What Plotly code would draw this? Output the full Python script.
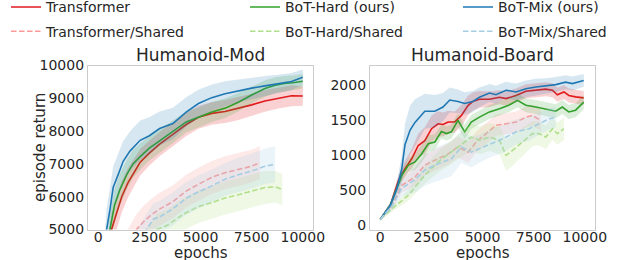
import plotly.graph_objects as go

# ------------------------------------------------------------------ data
x_ticks = [0, 2500, 5000, 7500, 10000]
x_tick_labels = ["0", "2500", "5000", "7500", "10000"]
mod_y_ticks = [5000, 6000, 7000, 8000, 9000, 10000]
mod_y_tick_labels = ["5000", "6000", "7000", "8000", "9000", "10000"]
board_y_ticks = [0, 500, 1000, 1500, 2000]
board_y_tick_labels = ["0", "500", "1000", "1500", "2000"]

panel_titles = ["Humanoid-Mod", "Humanoid-Board"]
series_names = ["Transformer", "Transformer/Shared", "BoT-Hard (ours)",
                "BoT-Hard/Shared", "BoT-Mix (ours)", "BoT-Mix/Shared"]

# --- Humanoid-Mod
mod_tr_ep = [0, 650, 900, 1150, 1450, 1800, 2050, 2500, 3000, 3650, 4300, 4900, 5550, 6200, 6850, 7500, 8150, 8800, 9450, 10000]
mod_tr_val = [1500, 5000, 5500, 6000, 6420, 6790, 7050, 7330, 7600, 7900, 8200, 8420, 8540, 8600, 8690, 8800, 8920, 9010, 9080, 9070]
mod_tr_std = [300, 500, 500, 480, 450, 420, 400, 380, 370, 360, 350, 350, 350, 350, 350, 340, 330, 320, 320, 300]

mod_trs_ep = [0, 1300, 1875, 2200, 2600, 3000, 3650, 4300, 4900, 5550, 6200, 6850, 7500, 7900]
mod_trs_val = [1000, 4400, 5000, 5230, 5450, 5620, 5850, 6170, 6380, 6590, 6730, 6830, 6930, 7040]
mod_trs_std = [300, 450, 470, 480, 490, 500, 500, 500, 500, 500, 500, 500, 500, 500]

mod_hard_ep = [0, 570, 800, 1050, 1400, 1700, 2050, 2500, 3000, 3650, 4300, 4900, 5550, 6200, 6850, 7500, 8150, 8650, 9100, 9600, 10000]
mod_hard_val = [1500, 5000, 5750, 6200, 6680, 7000, 7220, 7480, 7700, 7980, 8280, 8420, 8580, 8700, 8880, 9100, 9300, 9400, 9450, 9480, 9520]
mod_hard_std = [300, 500, 500, 480, 450, 420, 400, 380, 360, 340, 320, 300, 300, 300, 280, 260, 250, 240, 230, 220, 220]

mod_hards_ep = [0, 2300, 2850, 3350, 4200, 4900, 5550, 6200, 6850, 7500, 8150, 8650, 9000]
mod_hards_val = [1000, 4500, 5000, 5120, 5480, 5700, 5820, 5960, 6060, 6160, 6280, 6300, 6220]
mod_hards_std = [300, 450, 470, 480, 490, 500, 500, 500, 500, 500, 500, 480, 480]

mod_mix_ep = [0, 410, 570, 730, 980, 1220, 1550, 2050, 2500, 3000, 3650, 4300, 4900, 5550, 6200, 6850, 7500, 8150, 8800, 9450, 10000]
mod_mix_val = [1500, 5000, 5590, 6280, 6680, 7080, 7390, 7720, 7860, 8080, 8230, 8580, 8840, 9020, 9140, 9230, 9310, 9380, 9440, 9510, 9640]
mod_mix_std = [400, 650, 650, 650, 640, 620, 600, 600, 560, 520, 480, 450, 420, 400, 380, 350, 320, 300, 280, 260, 240]

mod_mixs_ep = [0, 1800, 2360, 2700, 3000, 3650, 4300, 4900, 5550, 6200, 6850, 7500, 8150, 8650]
mod_mixs_val = [1000, 4450, 5000, 5320, 5380, 5630, 5950, 6150, 6330, 6530, 6670, 6780, 6930, 6990]
mod_mixs_std = [300, 450, 470, 480, 490, 500, 500, 500, 500, 500, 520, 530, 540, 550]

# --- Humanoid-Board
brd_tr_ep = [0, 500, 890, 1210, 1540, 1860, 2180, 2510, 2830, 3070, 3320, 3640, 3970, 4290, 4530, 4850, 5340, 5830, 6150, 6640, 7120, 7610, 8090, 8420, 8660, 8980, 9220, 9550, 9950]
brd_tr_val = [85, 290, 640, 810, 950, 1140, 1210, 1380, 1450, 1440, 1475, 1475, 1570, 1710, 1770, 1800, 1800, 1830, 1810, 1855, 1915, 1930, 1945, 1930, 1865, 1905, 1855, 1835, 1820]
brd_tr_std = [15, 40, 80, 110, 140, 170, 190, 190, 180, 170, 160, 150, 150, 140, 130, 120, 110, 100, 100, 100, 100, 100, 100, 100, 100, 100, 100, 100, 100]

brd_trs_ep = [0, 570, 1050, 1700, 2180, 2830, 3320, 3800, 4290, 4370, 4690, 5180, 5660, 6150, 6640, 7120, 7440, 7690, 7850]
brd_trs_val = [85, 280, 570, 690, 860, 950, 1020, 1120, 1045, 1070, 1190, 1310, 1430, 1450, 1475, 1545, 1570, 1525, 1500]
brd_trs_std = [15, 50, 100, 130, 150, 150, 150, 150, 150, 150, 150, 150, 150, 150, 150, 150, 150, 150, 150]

brd_hard_ep = [0, 500, 1050, 1380, 1700, 2020, 2350, 2670, 2990, 3240, 3480, 3800, 4130, 4450, 4850, 5340, 5830, 6310, 6710, 7120, 7610, 8090, 8580, 8900, 9220, 9550, 9950]
brd_hard_val = [85, 290, 710, 860, 905, 1020, 1165, 1190, 1340, 1310, 1335, 1500, 1335, 1475, 1545, 1620, 1665, 1720, 1785, 1715, 1690, 1665, 1630, 1690, 1620, 1645, 1760]
brd_hard_std = [15, 40, 80, 100, 110, 120, 120, 110, 100, 100, 100, 100, 100, 100, 100, 100, 100, 100, 100, 100, 100, 100, 100, 100, 100, 100, 100]

brd_hards_ep = [0, 570, 1380, 2180, 2830, 3480, 4130, 4450, 4850, 5340, 5830, 5990, 6150, 6470, 6960, 7440, 7770, 8090, 8420, 8660, 8980]
brd_hards_val = [85, 235, 430, 715, 905, 1045, 1190, 1260, 1215, 1260, 1215, 1095, 1000, 1070, 1190, 1310, 1310, 1260, 1380, 1310, 1380]
brd_hards_std = [15, 40, 80, 120, 150, 170, 180, 190, 200, 200, 200, 210, 220, 220, 200, 180, 170, 170, 160, 160, 160]

brd_mix_ep = [0, 500, 810, 1050, 1210, 1460, 1700, 2020, 2180, 2670, 3070, 3400, 3800, 4130, 4530, 4850, 5340, 5660, 6150, 6640, 7120, 7610, 8090, 8580, 9060, 9390, 9950]
brd_mix_val = [85, 290, 520, 800, 1150, 1360, 1470, 1570, 1630, 1630, 1690, 1790, 1770, 1740, 1770, 1830, 1890, 1865, 1930, 1905, 1950, 1975, 1990, 2010, 2045, 2025, 2070]
brd_mix_std = [15, 40, 80, 200, 300, 350, 330, 280, 250, 230, 200, 180, 170, 160, 150, 140, 130, 130, 120, 120, 120, 120, 110, 110, 100, 100, 90]

brd_mixs_ep = [0, 570, 1050, 1700, 2180, 2830, 3480, 3970, 4450, 4850, 5340, 5990, 6640, 7280, 7770, 8250, 8580]
brd_mixs_val = [85, 270, 530, 650, 790, 880, 950, 1120, 1045, 1095, 1165, 1235, 1335, 1380, 1450, 1520, 1545]
brd_mixs_std = [15, 50, 120, 180, 220, 250, 250, 230, 220, 200, 200, 200, 180, 170, 160, 150, 150]

# ------------------------------------------------------------------ style
W, H = 623, 260
FONT = "DejaVu Sans"
TXT = "#262626"
FRAME = "#cccccc"
line_colors = ["#e31a1c", "#fb9a99", "#33a02c", "#b2df8a", "#1f78b4", "#a6cee3"]
band_colors = ["rgba(227,26,28,0.20)", "rgba(251,154,153,0.22)",
               "rgba(51,160,44,0.18)", "rgba(178,223,138,0.22)",
               "rgba(31,120,180,0.18)", "rgba(166,206,227,0.22)"]
dashes = ["solid", "5.5px,2.5px"] * 3
legend_ids = ["legend", "legend", "legend2", "legend2", "legend3", "legend3"]

panels = [
    ("x", "y", [(mod_tr_ep, mod_tr_val, mod_tr_std), (mod_trs_ep, mod_trs_val, mod_trs_std),
                (mod_hard_ep, mod_hard_val, mod_hard_std), (mod_hards_ep, mod_hards_val, mod_hards_std),
                (mod_mix_ep, mod_mix_val, mod_mix_std), (mod_mixs_ep, mod_mixs_val, mod_mixs_std)]),
    ("x2", "y2", [(brd_tr_ep, brd_tr_val, brd_tr_std), (brd_trs_ep, brd_trs_val, brd_trs_std),
                  (brd_hard_ep, brd_hard_val, brd_hard_std), (brd_hards_ep, brd_hards_val, brd_hards_std),
                  (brd_mix_ep, brd_mix_val, brd_mix_std), (brd_mixs_ep, brd_mixs_val, brd_mixs_std)]),
]

fig = go.Figure()
for p, (xa, ya, data) in enumerate(panels):
    for i, (ep, val, std) in enumerate(data):
        upper = [v + s for v, s in zip(val, std)]
        lower = [v - s for v, s in zip(val, std)]
        fig.add_trace(go.Scatter(
            x=list(ep) + list(ep)[::-1], y=upper + lower[::-1],
            fill="toself", fillcolor=band_colors[i], line=dict(width=0),
            mode="lines", hoverinfo="skip", showlegend=False, xaxis=xa, yaxis=ya))
        fig.add_trace(go.Scatter(
            x=ep, y=val, mode="lines", name=series_names[i],
            line=dict(color=line_colors[i], width=1.6, dash=dashes[i]),
            showlegend=(p == 0), legend=legend_ids[i], legendgroup=series_names[i],
            xaxis=xa, yaxis=ya))

def px_x(v):
    return v / W

def px_y(v):
    return 1 - v / H

dom_y = [px_y(229.5), px_y(65.5)]
axis_common = dict(showline=True, mirror=True, linecolor=FRAME, linewidth=1.25,
                   showgrid=False, zeroline=False, ticks="",
                   tickfont=dict(family=FONT, size=14, color=TXT))

fig.update_layout(
    width=W, height=H,
    margin=dict(l=0, r=0, t=0, b=0, autoexpand=False),
    paper_bgcolor="white", plot_bgcolor="white",
    font=dict(family=FONT, color=TXT),
    xaxis=dict(domain=[px_x(88), px_x(313)], range=[-500, 10500], anchor="y",
               tickvals=x_ticks, ticktext=x_tick_labels, ticklabelstandoff=-5, **axis_common),
    yaxis=dict(domain=dom_y, range=[5000, 10000], anchor="x",
               tickvals=mod_y_ticks, ticktext=mod_y_tick_labels, **axis_common),
    xaxis2=dict(domain=[px_x(370), px_x(595)], range=[-500, 10500], anchor="y2",
                tickvals=x_ticks, ticktext=x_tick_labels, ticklabelstandoff=-5, **axis_common),
    yaxis2=dict(domain=dom_y, range=[-60, 2283], anchor="x2",
                tickvals=board_y_ticks, ticktext=board_y_tick_labels, **axis_common),
)

leg_common = dict(y=px_y(-8.6), yanchor="top", xanchor="left", bgcolor="rgba(0,0,0,0)",
                  borderwidth=0, traceorder="grouped", tracegroupgap=3,
                  font=dict(family=FONT, size=14, color=TXT))
fig.update_layout(legend=dict(x=px_x(6), **leg_common),
                  legend2=dict(x=px_x(245), **leg_common),
                  legend3=dict(x=px_x(458), **leg_common))

ann = []
for title, cx in zip(panel_titles, [200.5, 482.5]):
    ann.append(dict(text=title, x=px_x(cx), y=px_y(55), xref="paper", yref="paper",
                    xanchor="center", yanchor="middle", showarrow=False,
                    font=dict(family=FONT, size=17, color=TXT)))
    ann.append(dict(text="epochs", x=px_x(cx), y=px_y(252.5), xref="paper", yref="paper",
                    xanchor="center", yanchor="middle", showarrow=False,
                    font=dict(family=FONT, size=15, color=TXT)))
ann.append(dict(text="episode return", x=px_x(39.5), y=px_y(147.5), xref="paper", yref="paper",
                xanchor="center", yanchor="middle", textangle=-90, showarrow=False,
                font=dict(family=FONT, size=15, color=TXT)))
fig.update_layout(annotations=ann)

fig.write_html("out.html", config={"displayModeBar": False},
               post_script="document.body.style.margin='0';document.body.style.padding='0';")
